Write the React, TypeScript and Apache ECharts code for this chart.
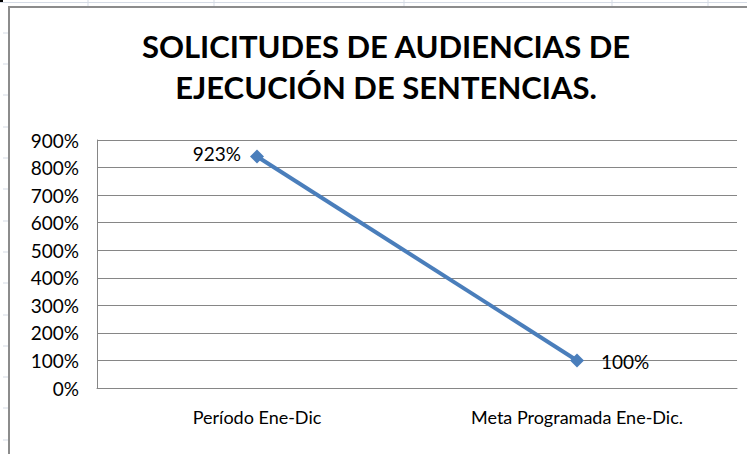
import React, { useEffect, useRef } from "react";
import * as echarts from "echarts";

const categories = ["Período Ene-Dic", "Meta Programada Ene-Dic."];
const values = [840, 100];
const dataLabels = ["923%", "100%"];
const yTicks = [0, 100, 200, 300, 400, 500, 600, 700, 800, 900];
const titleText = "SOLICITUDES DE AUDIENCIAS DE\nEJECUCIÓN DE SENTENCIAS.";

const sheetColumns = [88, 214, 404, 612, 708];
const sheetRows = [33, 64, 95, 127, 158, 189, 221, 252, 283, 315, 346, 377, 408, 440];

export default function App() {
  const ref = useRef<HTMLDivElement>(null);
  useEffect(() => {
    if (!ref.current) return;
    const chart = echarts.init(ref.current, undefined, { renderer: "svg" });
    const graphics: any[] = [];
    graphics.push({
      type: "line",
      shape: { x1: 0, y1: 2.5, x2: 747, y2: 2.5 },
      style: { stroke: "#d5dbe5", lineWidth: 1 },
    });
    graphics.push({
      type: "line",
      shape: { x1: 0, y1: 1, x2: 3, y2: 1 },
      style: { stroke: "#000", lineWidth: 2 },
    });
    sheetColumns.forEach((x) =>
      graphics.push({
        type: "line",
        shape: { x1: x, y1: 0, x2: x, y2: 6 },
        style: { stroke: "#d5dbe5", lineWidth: 1 },
      })
    );
    sheetRows.forEach((y) =>
      graphics.push({
        type: "line",
        shape: { x1: 3, y1: y, x2: 8, y2: y },
        style: { stroke: "#d5dbe5", lineWidth: 1 },
      })
    );
    graphics.push({
      type: "polyline",
      shape: { points: [[9, 454], [9, 7], [747, 7]] },
      style: { stroke: "#8c8c8c", lineWidth: 2, fill: null },
    });
    chart.setOption({
      animation: false,
      backgroundColor: "#ffffff",
      graphic: graphics,
      title: {
        text: titleText,
        left: 381,
        top: 20,
        textAlign: "center",
        textStyle: {
          fontFamily: "Lato",
          fontWeight: "bold",
          fontSize: 31,
          lineHeight: 41,
          color: "#000",
        },
      },
      grid: { left: 97, right: 10, top: 140, bottom: 66 },
      xAxis: {
        type: "category",
        data: categories,
        boundaryGap: true,
        axisLine: { show: true, lineStyle: { color: "#868686", width: 1 } },
        axisTick: { show: false },
        axisLabel: {
          margin: 20,
          fontFamily: "Lato",
          fontSize: 18,
          color: "#000",
        },
      },
      yAxis: {
        type: "value",
        min: 0,
        max: 900,
        interval: 100,
        axisLine: { show: true, lineStyle: { color: "#868686", width: 1 } },
        axisTick: { show: false },
        splitLine: { show: true, lineStyle: { color: "#868686", width: 1 } },
        axisLabel: {
          margin: 18,
          fontFamily: "Lato",
          fontSize: 19,
          color: "#000",
          formatter: (v: number) => (yTicks.includes(v) ? `${v}%` : ""),
        },
      },
      series: [
        {
          type: "line",
          data: values.map((v, i) => ({
            value: v,
            label:
              i === 0
                ? { position: "left", distance: 9, offset: [0, -3] }
                : { position: "right", distance: 17, offset: [0, 1] },
          })),
          symbol: "diamond",
          symbolSize: 14,
          lineStyle: { color: "#4a7ebb", width: 4 },
          itemStyle: { color: "#4a7ebb" },
          label: {
            show: true,
            fontFamily: "Lato",
            fontSize: 19,
            color: "#000",
            formatter: (p: any) => dataLabels[p.dataIndex],
          },
        },
      ],
    });
    return () => chart.dispose();
  }, []);
  return (
    <div
      ref={ref}
      style={{ position: "absolute", left: 0, top: 0, width: 747, height: 454 }}
    />
  );
}
